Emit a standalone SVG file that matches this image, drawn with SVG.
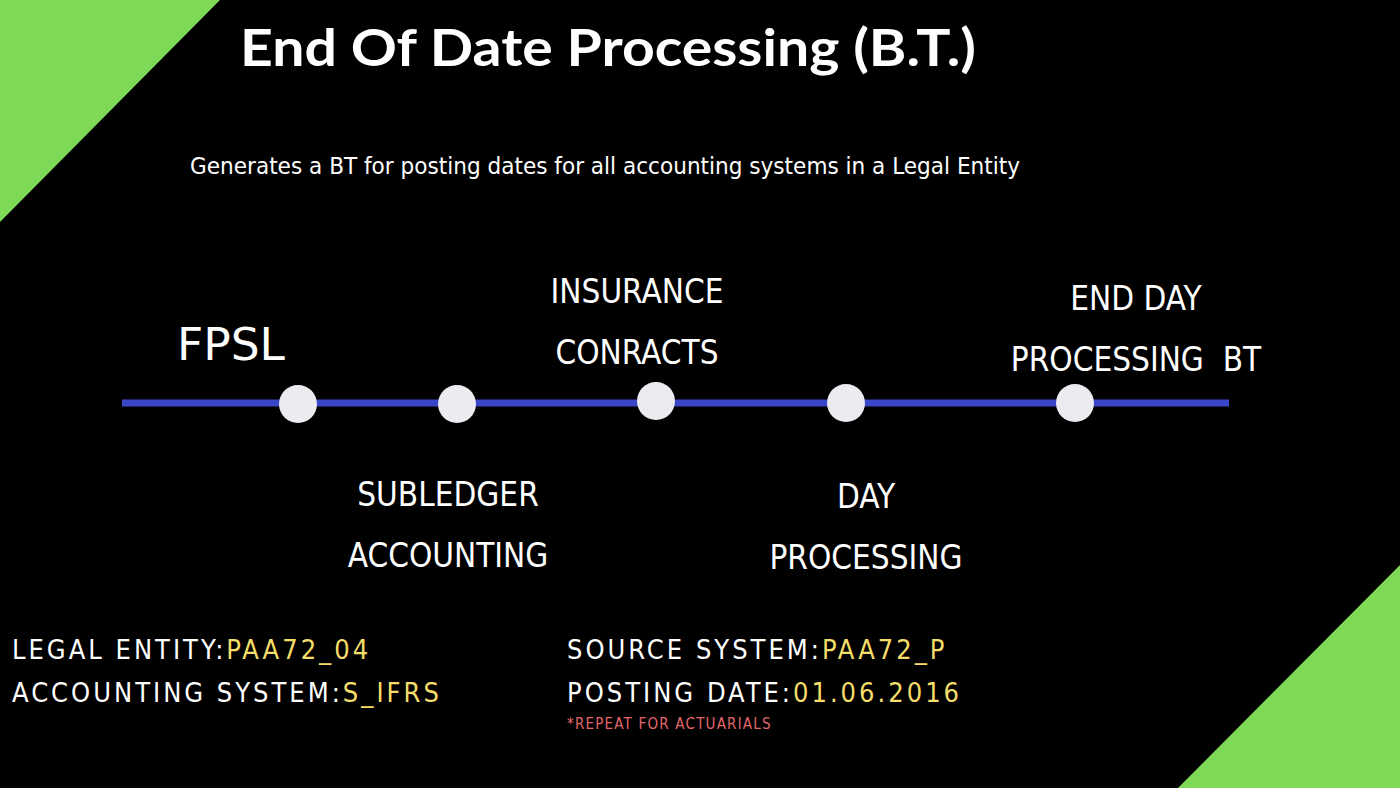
<svg xmlns="http://www.w3.org/2000/svg" width="1400" height="788" viewBox="0 0 1400 788">
<style>
.t{font-family:"DejaVu Sans","Liberation Sans",sans-serif;font-stretch:condensed;fill:#fff}
.lbl{font-size:33px;text-anchor:middle}
.info{font-size:27px;letter-spacing:3px}
.y{fill:#f5dd6a}
.dot{fill:#ecebf0}
</style>
<rect width="1400" height="788" fill="#000"/>
<polygon points="0,0 220,0 0,222" fill="#7ed957"/>
<polygon points="1400,565 1400,788 1178,788" fill="#7ed957"/>
<text x="240" y="66" font-family="Lato,'Liberation Sans',sans-serif" font-weight="bold" font-size="52" fill="#fff" textLength="736" lengthAdjust="spacingAndGlyphs">End Of Date Processing (B.T.)</text>
<text class="t" x="190" y="174" font-size="23" textLength="830" lengthAdjust="spacingAndGlyphs">Generates a BT for posting dates for all accounting systems in a Legal Entity</text>
<g id="connectors"><line x1="122" y1="403" x2="1229" y2="403" stroke="#3a46c8" stroke-width="7"/></g>
<g id="n1"><circle class="dot" cx="298" cy="404" r="19"/><text class="t" x="177" y="360" font-size="44" textLength="108" lengthAdjust="spacingAndGlyphs">FPSL</text></g>
<g id="n2"><circle class="dot" cx="457" cy="404" r="19"/><text class="t lbl" x="448" y="506">SUBLEDGER</text><text class="t lbl" x="448" y="567">ACCOUNTING</text></g>
<g id="n3"><circle class="dot" cx="656" cy="401" r="19"/><text class="t lbl" x="637" y="303">INSURANCE</text><text class="t lbl" x="637" y="364">CONRACTS</text></g>
<g id="n4"><circle class="dot" cx="846" cy="403" r="19"/><text class="t lbl" x="866" y="508">DAY</text><text class="t lbl" x="866" y="569">PROCESSING</text></g>
<g id="n5"><circle class="dot" cx="1075" cy="403" r="19"/><text class="t lbl" x="1136" y="310">END DAY</text><text class="t lbl" x="1136" y="371" xml:space="preserve">PROCESSING  BT</text></g>
<text class="t info" x="12" y="659">LEGAL ENTITY:<tspan class="y">PAA72_04</tspan></text>
<text class="t info" x="12" y="702">ACCOUNTING SYSTEM:<tspan class="y">S_IFRS</tspan></text>
<text class="t info" x="567" y="659">SOURCE SYSTEM:<tspan class="y">PAA72_P</tspan></text>
<text class="t info" x="567" y="702">POSTING DATE:<tspan class="y">01.06.2016</tspan></text>
<text class="t" x="567" y="729" font-size="15" letter-spacing="1.2" style="fill:#e0676a">*REPEAT FOR ACTUARIALS</text>
</svg>
